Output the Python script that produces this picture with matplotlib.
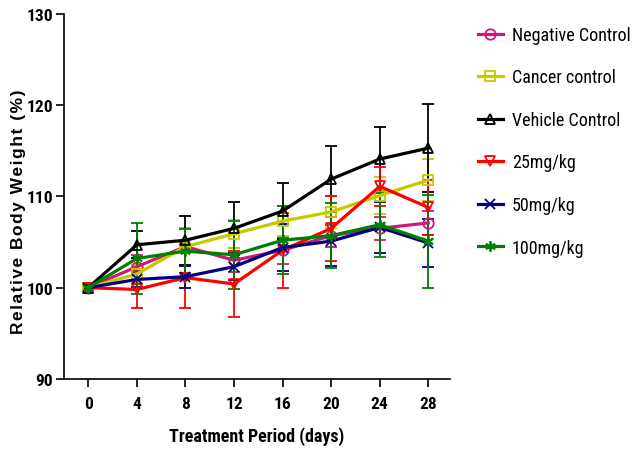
import matplotlib
matplotlib.use("Agg")
import matplotlib.pyplot as plt
from matplotlib import font_manager

days = [0, 4, 8, 12, 16, 20, 24, 28]
labels = ["Negative Control", "Cancer control", "Vehicle Control", "25mg/kg", "50mg/kg", "100mg/kg"]

neg_mean = [100, 102.3, 104.5, 103.0, 104.1, 105.7, 106.5, 107.1]
neg_err = [0.3, 1.3, 2.0, 1.3, 1.5, 1.2, 1.3, 1.3]
can_mean = [100, 101.5, 104.5, 105.9, 107.3, 108.3, 110.1, 111.8]
can_err = [0.3, 1.0, 2.0, 1.5, 1.6, 1.8, 2.0, 2.3]
veh_mean = [100, 104.7, 105.2, 106.5, 108.4, 111.9, 114.1, 115.3]
veh_err = [0.3, 1.5, 2.7, 2.9, 3.1, 3.6, 3.5, 4.8]
mg25_mean = [100, 99.8, 101.1, 100.4, 104.1, 106.5, 111.1, 108.8]
mg25_err = [0.3, 2.0, 3.3, 3.6, 4.1, 3.6, 2.1, 3.0]
mg50_mean = [100, 100.9, 101.2, 102.3, 104.4, 105.1, 106.6, 104.9]
mg50_err = [0.3, 0.8, 1.2, 1.5, 2.6, 2.7, 2.8, 2.6]
mg100_mean = [100, 103.2, 104.0, 103.6, 105.2, 105.7, 106.9, 105.1]
mg100_err = [0.3, 3.9, 2.4, 3.7, 3.7, 3.6, 3.5, 5.1]

means = [neg_mean, can_mean, veh_mean, mg25_mean, mg50_mean, mg100_mean]
errs = [neg_err, can_err, veh_err, mg25_err, mg50_err, mg100_err]
colors = ["#CC1A7A", "#C8C800", "#000000", "#FF0000", "#000080", "#008000"]
markers = ["o", "s", "^", "v", "x", (6, 2, 0)]

weights = {}
for f in font_manager.fontManager.ttflist:
    w = f.weight if isinstance(f.weight, int) else 400
    weights.setdefault(f.name, set()).add((w, f.style))

cands = ['Arial Narrow', 'Liberation Sans Narrow', 'Arimo Narrow', 'Roboto Condensed',
         'PT Sans Narrow', 'Archivo Narrow', 'Pragati Narrow', 'Open Sans Condensed']


def pick(need_bold):
    for c in cands:
        ws = weights.get(c)
        if not ws:
            continue
        normal = [w for w, s in ws if s == 'normal']
        if need_bold and any(w >= 700 for w in normal):
            return c
        if not need_bold and any(350 <= w <= 500 for w in normal):
            return c
    return None


base = ['Liberation Sans', 'DejaVu Sans']
nb = pick(True)
nr = pick(False)
narrow_bold = [nb] + base if nb else base
narrow_reg = [nr] + base if nr else base
kb = 1.0 if nb else 0.85
kr = 1.0 if nr else 0.85
plt.rcParams['font.family'] = base

fig = plt.figure(figsize=(6.34, 4.56), dpi=100)
ax = fig.add_axes([0.101, 0.167, 0.609, 0.800])

handles = []
for m, e, c, mk, lab in zip(means, errs, colors, markers, labels):
    filled = mk in ("x",) or isinstance(mk, tuple)
    h = ax.errorbar(days, m, yerr=e, color=c, lw=2.3, marker=mk, markersize=7.5,
                    markerfacecolor=(c if filled else "none"), markeredgecolor=c,
                    markeredgewidth=1.3, ecolor=c, elinewidth=1.3, capsize=4,
                    capthick=1.5, label=lab)
    handles.append(h)

ax.set_xlim(-2, 29.8)
ax.set_ylim(90, 130)
ax.set_xticks(days)
ax.set_yticks([90, 100, 110, 120, 130])
ax.spines['top'].set_visible(False)
ax.spines['right'].set_visible(False)
for s in ('left', 'bottom'):
    ax.spines[s].set_linewidth(1.2)
ax.tick_params(direction='out', length=6, width=1.2)
ax.tick_params(axis='x', pad=6)
ax.tick_params(axis='y', pad=2)
for t in ax.get_xticklabels() + ax.get_yticklabels():
    t.set_fontweight('bold')
    t.set_family(narrow_bold)
    t.set_fontsize(12.5 * kb)

ax.set_xlabel("Treatment Period (days)", fontsize=13 * kb, fontweight='bold',
              family=narrow_bold, labelpad=11)
ylab = "\u200a".join("Relative Body Weight (%)")
fig.text(19 / 634, 1 - 212 / 456, ylab, rotation=90,
         ha='center', va='center', fontsize=12.5, fontweight='bold',
         family=['Liberation Sans', 'DejaVu Sans'])

leg_handles = [h[0] for h in handles]
fig.legend(leg_handles, labels, loc='upper left', bbox_to_anchor=(0.742, 0.957),
           frameon=False, prop={'family': narrow_reg, 'size': 13 * kr},
           labelspacing=1.36, handlelength=1.4, handletextpad=0.5, borderaxespad=0)

fig.savefig("out.png", dpi=100)
